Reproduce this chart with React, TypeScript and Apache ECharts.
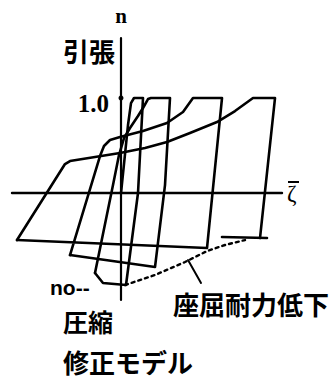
import { useEffect, useRef } from "react";
import * as echarts from "echarts";

// Hysteresis path of the modified brace model, in (ζ̄, n).
const firstCycle: [number, number][] = [
  [0, 0], [0.35, 0.716], [0.5, 0.947], [0.65, 1.0], [1.1, 1.0],
  [0.85, 0.0], [0.25, -0.968], [-0.9, -0.947], [-1.3, -0.842],
];
const secondCycle: [number, number][] = [
  [-1.3, -0.842], [-0.4, 0.084], [-0.1, 0.4], [0.15, 0.579], [0.45, 0.684],
  [0.85, 0.811], [1.1, 0.895], [1.35, 0.989], [1.5, 1.0], [2.45, 1.0],
  [2.2, 0.084], [1.7, -0.779], [-2.55, -0.653],
];
const thirdCycle: [number, number][] = [
  [-2.55, -0.653], [-1.05, 0.389], [-0.85, 0.495], [-0.55, 0.558], [-0.05, 0.589],
  [1.1, 0.653], [2.3, 0.737], [3.1, 0.853], [3.6, 1.0], [5.05, 1.0],
  [4.3, -0.579], [-5.2, -0.495],
];
const fourthCycle: [number, number][] = [
  [-5.2, -0.495], [-2.8, 0.305], [-2.55, 0.337], [-1.3, 0.379], [-0.05, 0.421],
  [1.2, 0.474], [2.3, 0.537], [3.45, 0.632], [4.8, 0.747], [5.7, 0.863],
  [6.6, 1.0], [7.7, 1.0], [6.95, -0.474],
];
const finalBranch: [number, number][] = [[7.3, -0.474], [5.05, -0.463]];
const bucklingEnvelope: [number, number][] = [
  [0.2, -0.968], [1.7, -0.863], [3.2, -0.726], [4.3, -0.611], [5.2, -0.547], [6.2, -0.495],
];
const envelopeLeader: [number, number][] = [[3.35, -0.705], [4.0, -0.947]];

const yTickValues = [1];
const xRange = [-5.45, 8.05];
const yRange = [-1.126, 1.632];

const INK = "#000000";
const CJK = '"Noto Sans CJK JP", sans-serif';
const SERIF = '"Liberation Serif", "DejaVu Serif", serif';

export default function App() {
  const ref = useRef<HTMLDivElement>(null);
  useEffect(() => {
    const chart = echarts.init(ref.current!, null, { renderer: "svg" });
    const line = (data: [number, number][], extra: any = {}) => ({
      type: "line",
      data,
      symbol: "none",
      silent: true,
      lineStyle: { color: INK, width: 2.6, join: "round", cap: "round", ...(extra.lineStyle || {}) },
      z: 3,
    });
    const label = (text: string, x: number, y: number, size: number, font = CJK, align = "left") => ({
      type: "text",
      x,
      y,
      style: {
        text,
        fill: INK,
        font: `bold ${size}px ${font}`,
        align,
        verticalAlign: "middle",
      },
    });
    chart.setOption({
      animation: false,
      backgroundColor: "#ffffff",
      grid: { left: 12, right: 54, top: 38, bottom: 81, containLabel: false, outerBoundsMode: "none" },
      xAxis: {
        type: "value",
        min: xRange[0],
        max: xRange[1],
        axisLine: { onZero: true, lineStyle: { color: INK, width: 2.4 } },
        axisTick: { show: false },
        axisLabel: { show: false },
        splitLine: { show: false },
        name: "ζ",
        nameLocation: "end",
        nameGap: 5,
        nameTextStyle: {
          color: INK,
          fontSize: 23,
          fontFamily: SERIF,
          verticalAlign: "middle",
          padding: [11, 0, 0, 0],
        },
      },
      yAxis: {
        type: "value",
        min: yRange[0],
        max: yRange[1],
        axisLine: { show: true, onZero: true, lineStyle: { color: INK, width: 2.2 } },
        axisTick: { show: false },
        axisLabel: { show: false },
        splitLine: { show: false },
        name: "n",
        nameLocation: "end",
        nameGap: 12,
        nameTextStyle: { color: INK, fontSize: 21, fontWeight: "bold", fontFamily: SERIF },
      },
      series: [
        line(firstCycle),
        line(secondCycle),
        line(thirdCycle),
        line(fourthCycle),
        line(finalBranch),
        line(bucklingEnvelope, { lineStyle: { type: [3, 4], width: 2.4 } }),
        line(envelopeLeader, { lineStyle: { width: 2 } }),
        {
          type: "scatter",
          silent: true,
          data: yTickValues.map((v) => [0, v]),
          symbol: "circle",
          symbolSize: 5,
          itemStyle: { color: INK, opacity: 1 },
          z: 4,
        },
      ],
    });
    // y tick labels placed beside the zero-crossing y axis
    const tickTexts = yTickValues.map((v) => {
      const [px, py] = chart.convertToPixel({ gridIndex: 0 }, [0, v]) as number[];
      return label(v.toFixed(1), px - 12, py + 5, 25, SERIF, "right");
    });
    chart.setOption({
      graphic: [
        ...tickTexts,
        label("引張", 63, 50, 26),
        label("no--", 50, 287, 21, '"Liberation Sans", sans-serif'),
        label("圧縮", 63, 321, 25),
        label("座屈耐力低下", 173, 303, 26),
        label("修正モデル", 63, 361, 26),
        { type: "line", shape: { x1: 288, y1: 182, x2: 299, y2: 182 }, style: { stroke: INK, lineWidth: 2 } },
      ],
    });
    return () => chart.dispose();
  }, []);
  return <div ref={ref} style={{ position: "fixed", left: 0, top: 0, width: 336, height: 381 }} />;
}
